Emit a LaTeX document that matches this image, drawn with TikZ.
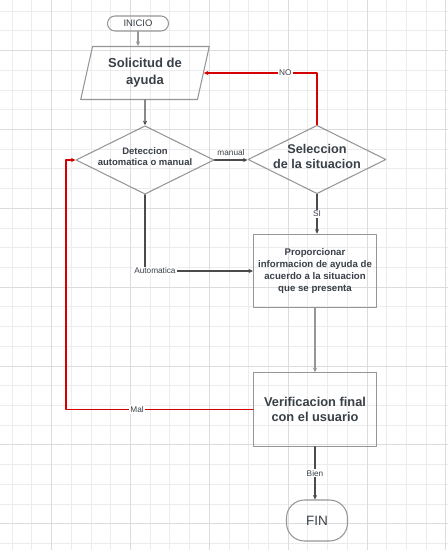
\documentclass[tikz,border=0pt]{standalone}
\usepackage{fontspec}
\setmainfont{Liberation Sans}
\usetikzlibrary{shapes.geometric}
\usetikzlibrary{arrows.meta}

\definecolor{boxline}{RGB}{150,150,150}
\definecolor{txt}{RGB}{58,64,72}
\definecolor{linkdark}{RGB}{75,75,75}
\definecolor{linklight}{RGB}{150,150,150}
\definecolor{redline}{RGB}{214,0,0}
\definecolor{gridminor}{RGB}{236,236,236}
\definecolor{gridmajor}{RGB}{220,220,220}

\begin{document}
\begin{tikzpicture}[line cap=round,line join=round,>={Stealth[length=2.6pt,width=2.4pt]},x=0.02cm,y=-0.02cm,
	flowbase/.style={draw=boxline,line width=0.6pt,text=txt,align=center,inner sep=0pt},
	flowbox/.style={flowbase,rectangle,minimum width=2.46cm,minimum height=1.47cm},
	flowdiamond/.style={flowbase,diamond,minimum width=2.76cm,minimum height=1.37cm},
	flowio/.style={flowbase,trapezium,trapezium left angle=74,trapezium right angle=106,trapezium stretches=true,minimum width=2.58cm,minimum height=1.06cm},
	flowterm/.style={flowbase,rectangle,rounded corners=#1},
	conn/.style={draw=linkdark,line width=0.6pt},
	connlight/.style={draw=linklight,line width=0.6pt},
	connred/.style={draw=redline,line width=0.65pt},
	linklabel/.style={fill=white,text=txt,inner sep=0.6pt,font=\fontsize{4.7}{5.5}\selectfont}]
		\useasboundingbox (0,0) rectangle (448,550);
		\fill[white] (0,0) rectangle (448,550);
		% grid
		\foreach \k in {0,...,22}
			\draw[gridminor,line width=0.4pt] ({12+19.72*\k},0) -- ({12+19.72*\k},550);
		\foreach \k in {0,...,27}
			\draw[gridminor,line width=0.4pt] (0,{11+19.72*\k}) -- (448,{11+19.72*\k});
		\foreach \k in {2,6,...,22}
			\draw[gridmajor,line width=0.4pt] ({12+19.72*\k},0) -- ({12+19.72*\k},550);
		\foreach \k in {2,6,...,26}
			\draw[gridmajor,line width=0.4pt] (0,{11+19.72*\k}) -- (448,{11+19.72*\k});
		% nodes
		\node[flowterm=0.15cm,minimum width=1.22cm,minimum height=0.30cm,font=\fontsize{5.4}{6}\selectfont] (ini) at (138,23.5) {INICIO};
		\node[flowio,font=\bfseries\fontsize{7.4}{9.6}\selectfont] (sol) at (145,73) {Solicitud de\\ayuda};
		\node[flowdiamond,label={[text=txt,align=center,font=\bfseries\fontsize{5.4}{6.6}\selectfont,yshift=0.07cm]center:Deteccion\\automatica o manual}] (det) at (145,160) {};
		\node[flowdiamond,label={[text=txt,align=center,font=\bfseries\fontsize{7.2}{8.5}\selectfont,yshift=0.06cm]center:Seleccion\\de la situacion}] (sel) at (317,159.5) {};
		\node[flowbox,font=\bfseries\fontsize{5.5}{6.7}\selectfont] (pro) at (315,271) {Proporcionar\\informacion de ayuda de\\acuerdo a la situacion\\que se presenta};
		\node[flowbox,font=\bfseries\fontsize{7.3}{8.5}\selectfont] (ver) at (315,409.5) {Verificacion final\\con el usuario};
		\node[flowterm=0.36cm,minimum width=1.22cm,minimum height=0.82cm,font=\fontsize{7.7}{9}\selectfont] (fin) at (317,520.5) {FIN};
		\coordinate (malesq) at (66,409.5);
		% connectors
		\draw[connlight,->] (ini.south) -- (ini.south |- sol.north);
		\draw[conn,->] (sol.south) -- (det.north);
		\draw[conn,->] (det.east) -- node[linklabel,above=1.5pt,fill=none]{manual} (det.east -| sel.west);
		\draw[connred,->] (sel.north) |- node[linklabel,pos=0.64]{NO} (sol.east);
		\draw[conn,->] (sel.south) -- node[linklabel]{SI} (sel.south |- pro.north);
		\draw[conn,->] (det.south) |- node[linklabel,pos=0.546]{Automatica} (pro.west);
		\draw[connlight,->] (pro) -- (ver);
		\draw[connred,->] (ver.west) -- node[linklabel,pos=0.62]{Mal} (malesq) |- (det.west);
		\draw[conn,->] (ver.south) -- node[linklabel]{Bien} (ver.south |- fin.north);
	\end{tikzpicture}
\end{document}
